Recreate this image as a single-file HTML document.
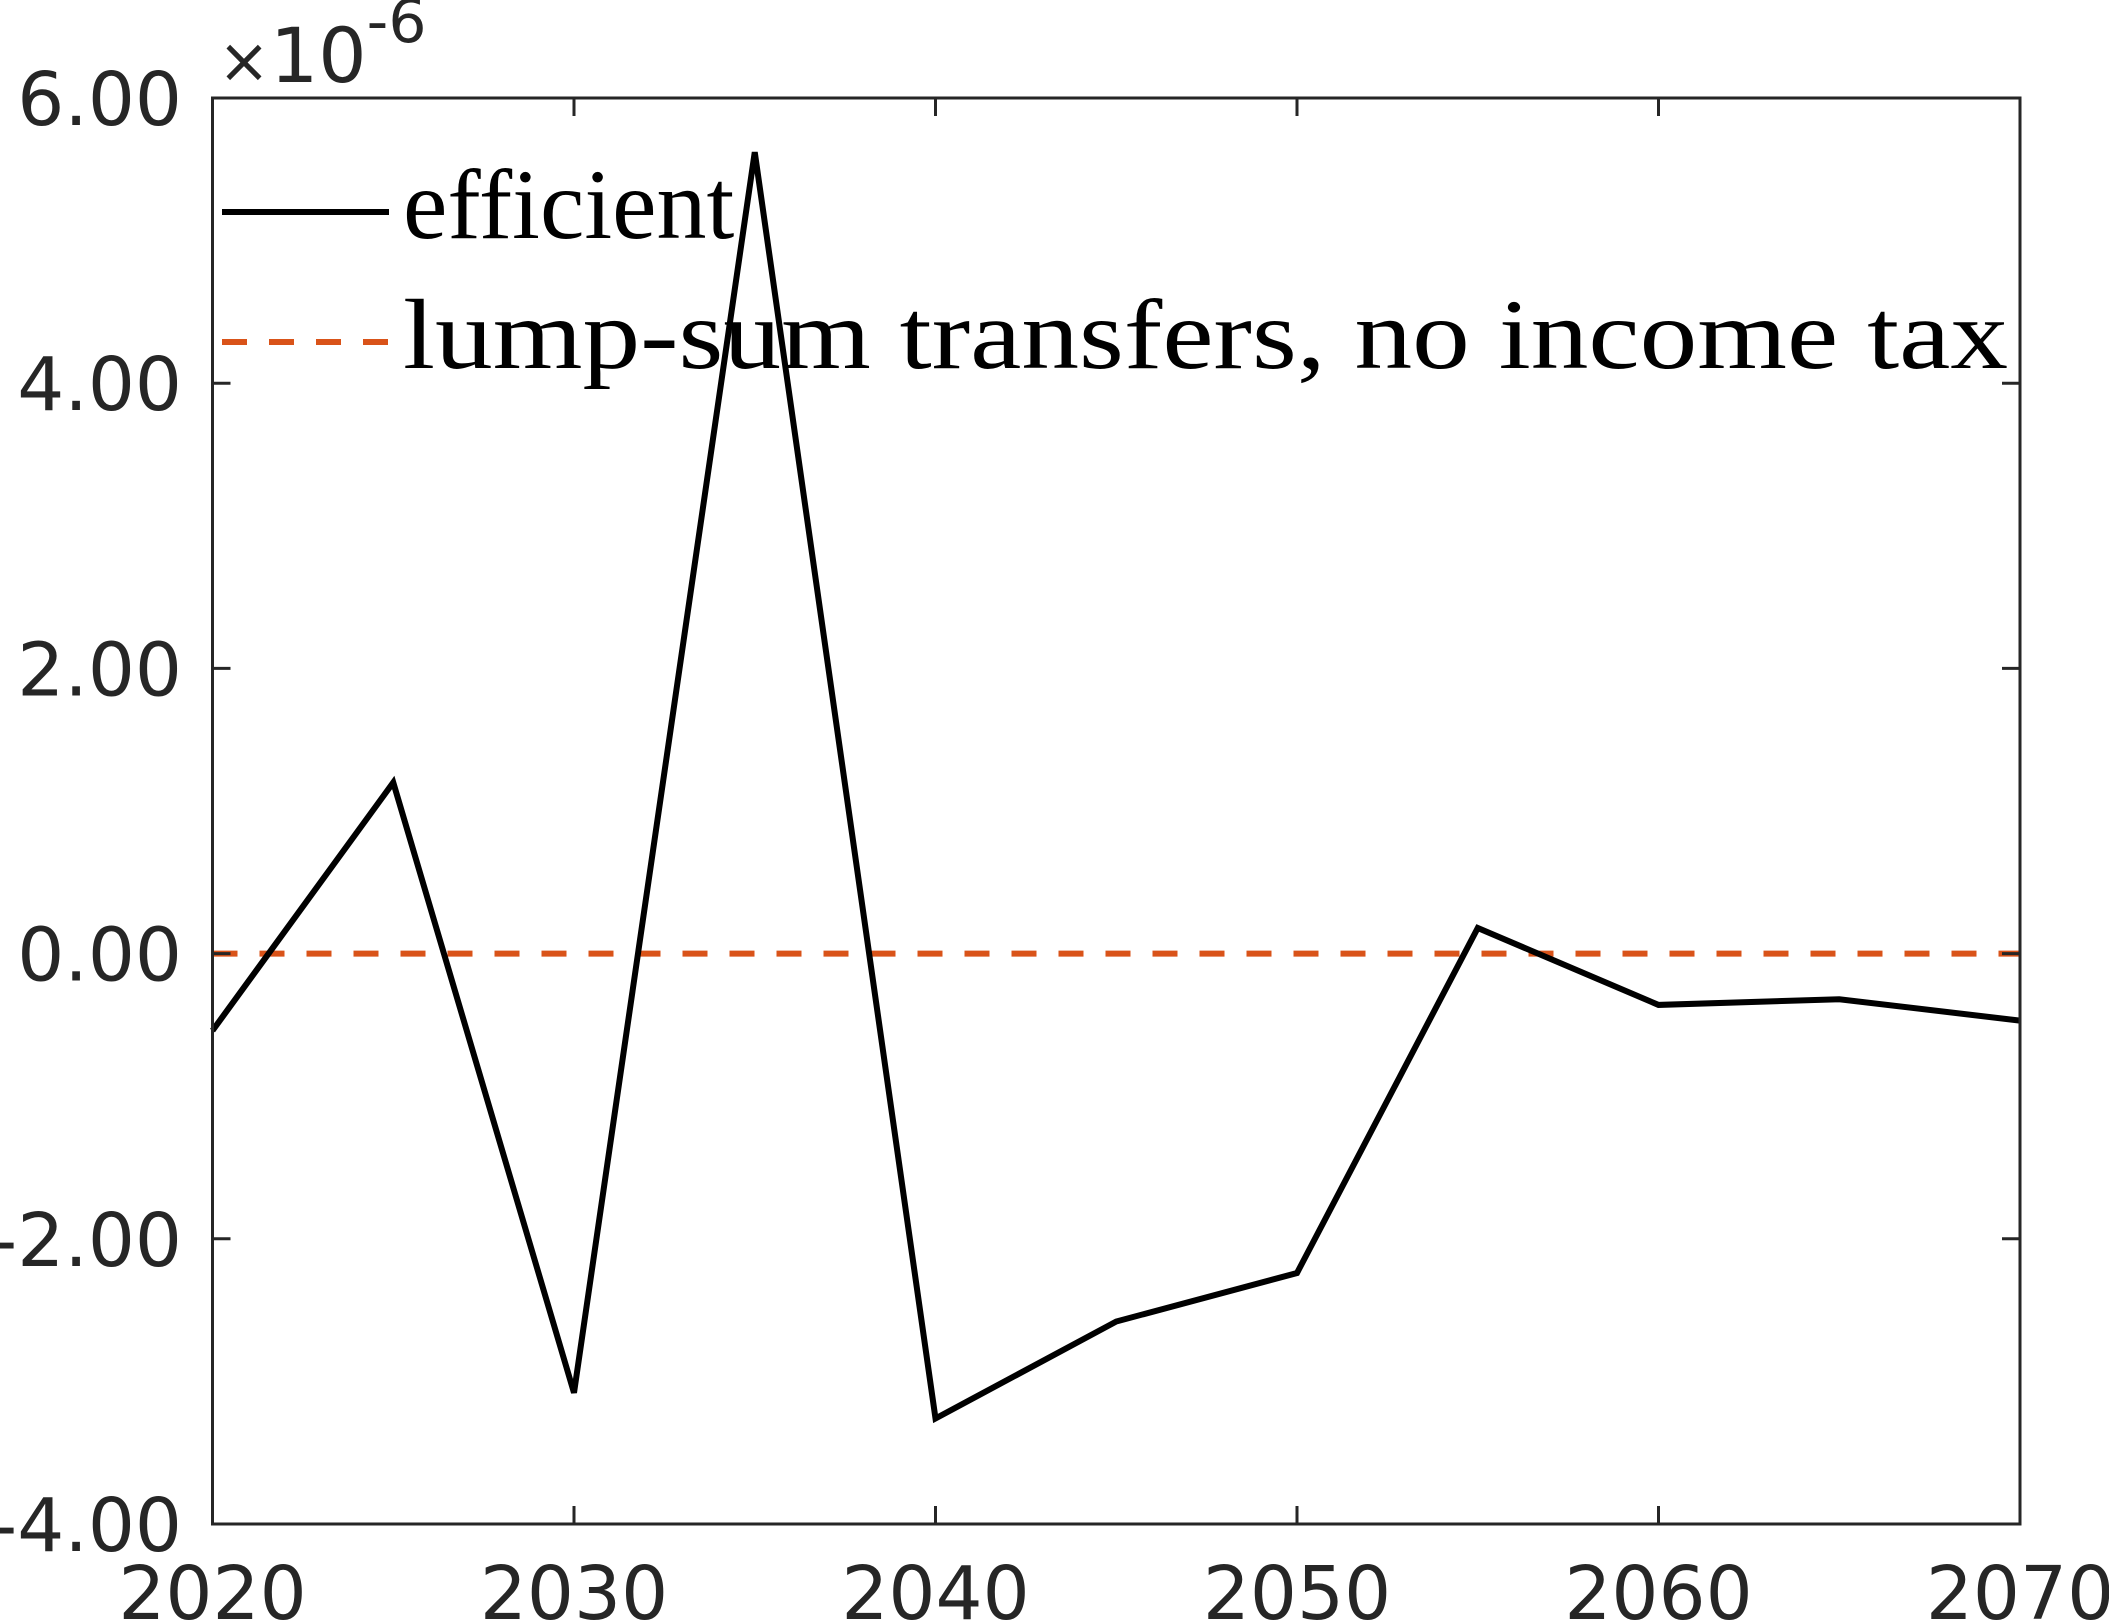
<!DOCTYPE html>
<html><head><meta charset="utf-8"><style>
html,body{margin:0;padding:0;background:#fff;}
svg{display:block;}
</style></head><body>
<svg id="chart" width="2109" height="1622" viewBox="0 0 2109 1622" xmlns="http://www.w3.org/2000/svg">
<rect width="2109" height="1622" fill="#fff"/>
<g id="grid"></g>
<g id="series"></g>
<rect x="212.5" y="98" width="1807.5" height="1426" fill="none" stroke="#262626" stroke-width="3"/>
<g id="axes"></g>
<text x="218" y="82" font-family="DejaVu Sans, sans-serif" font-size="76" fill="#262626"><tspan font-size="62">×</tspan>10<tspan font-size="60" dy="-40">-6</tspan></text>
<g>
<line x1="222" y1="212" x2="389" y2="212" stroke="#000" stroke-width="6"/>
<text x="403" y="238" font-family="Liberation Serif, serif" font-size="100" fill="#000">efficient</text>
<line x1="222" y1="342" x2="389" y2="342" stroke="#D95319" stroke-width="6" stroke-dasharray="25,22"/>
<text x="403" y="368" font-family="Liberation Serif, serif" font-size="100" fill="#000" textLength="1605" lengthAdjust="spacingAndGlyphs">lump-sum transfers, no income tax</text>
</g>
</svg>
<script>
const years = [2020,2025,2030,2035,2040,2045,2050,2055,2060,2065,2070];
const efficient = [-0.54,1.20,-3.08,5.62,-3.26,-2.58,-2.24,0.18,-0.36,-0.32,-0.47];
const lumpSum = [0,0,0,0,0,0,0,0,0,0,0];
const xTicks = [2020,2030,2040,2050,2060,2070];
const yTicks = [-4,-2,0,2,4,6];
const yTickLabels = ["-4.00","-2.00","0.00","2.00","4.00","6.00"];

const L=212.5,R=2020,T=98,B=1524;
const xs = v => L + (v-2020)/(2070-2020)*(R-L);
const ys = v => B - (v+4)/10*(B-T);
const NS='http://www.w3.org/2000/svg';
const axes=document.getElementById('axes');
const series=document.getElementById('series');
function mk(tag,attrs,parent){const e=document.createElementNS(NS,tag);for(const k in attrs)e.setAttribute(k,attrs[k]);parent.appendChild(e);return e;}

xTicks.forEach(v=>{
  const x=xs(v);
  const t1=mk('line',{x1:x,x2:x,y1:B,y2:B-18,stroke:'#262626','stroke-width':3},axes);
  
  
  const t2=mk('line',{x1:x,x2:x,y1:T,y2:T+18,stroke:'#262626','stroke-width':3},axes);
  
  
  const lb=mk('text',{x:x,y:1619,'text-anchor':'middle','font-family':'DejaVu Sans, sans-serif','font-size':74,fill:'#262626'},axes);
  lb.textContent=String(v);
  
  
});
yTicks.forEach((v,i)=>{
  const y=ys(v);
  const t1=mk('line',{x1:L,x2:L+18,y1:y,y2:y,stroke:'#262626','stroke-width':3},axes);
  
  
  const t2=mk('line',{x1:R,x2:R-18,y1:y,y2:y,stroke:'#262626','stroke-width':3},axes);
  
  
  const lb=mk('text',{x:182,y:y+27,'text-anchor':'end','font-family':'DejaVu Sans, sans-serif','font-size':74,fill:'#262626'},axes);
  lb.textContent=yTickLabels[i];
  
  
});
const lp=mk('polyline',{points:years.map((y,i)=>xs(y)+','+ys(lumpSum[i])).join(' '),fill:'none',stroke:'#D95319','stroke-width':6,'stroke-dasharray':'25,22'},series);


const ep=mk('polyline',{points:years.map((y,i)=>xs(y)+','+ys(efficient[i])).join(' '),fill:'none',stroke:'#000','stroke-width':6,'stroke-linejoin':'miter'},series);


</script>
</body></html>
